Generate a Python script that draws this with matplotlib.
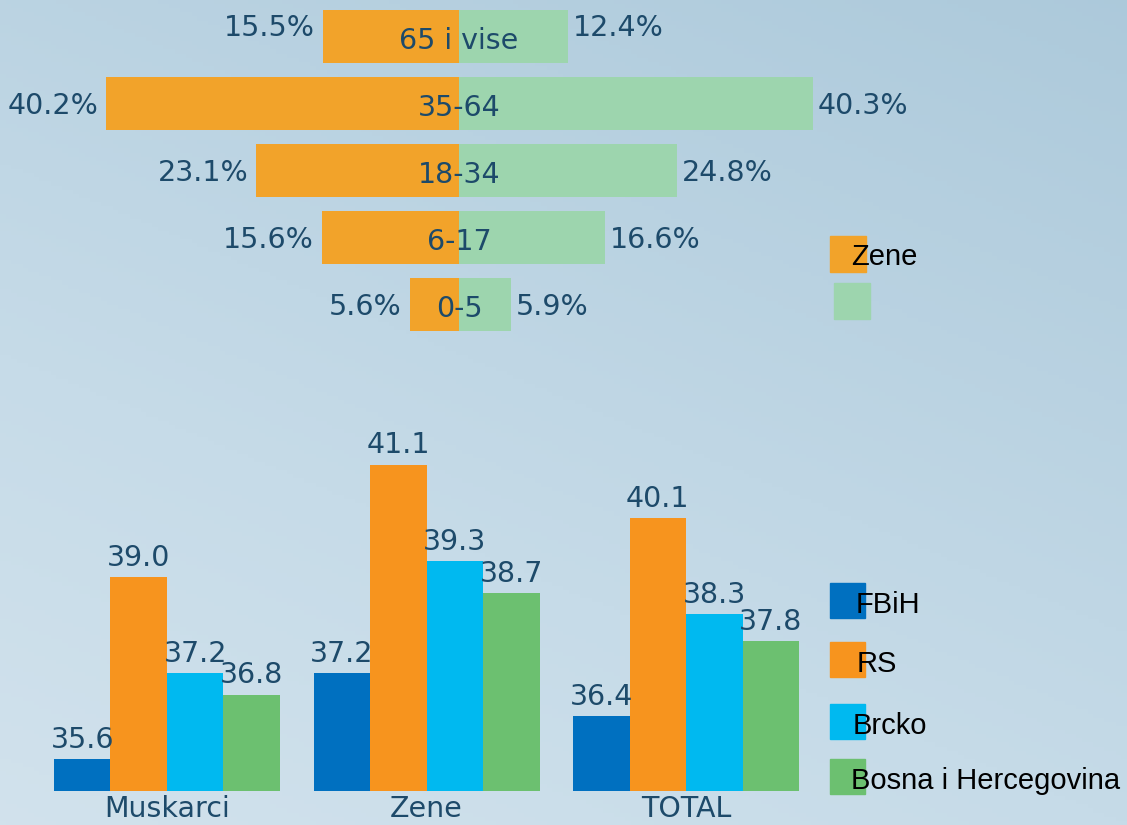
import numpy as np
import matplotlib.pyplot as plt
from matplotlib.colors import LinearSegmentedColormap
from matplotlib.patches import Rectangle

# population pyramid (percent)
age_groups = ['0-5', '6-17', '18-34', '35-64', '65 i vise']
zene = [5.6, 15.6, 23.1, 40.2, 15.5]
muskarci = [5.9, 16.6, 24.8, 40.3, 12.4]

# average age by entity
categories = ['Muskarci', 'Zene', 'TOTAL']
fbih = [35.6, 37.2, 36.4]
rs = [39.0, 41.1, 40.1]
brcko = [37.2, 39.3, 38.3]
bih = [36.8, 38.7, 37.8]
entities = ['FBiH', 'RS', 'Brcko', 'Bosna i Hercegovina']

navy = '#1d4a6a'
c_orange = '#f2a32a'
c_green = '#9dd5ae'
ent_colors = ['#0070c0', '#f7941e', '#00b9f0', '#6cc070']
fs = 20.5

W, H = 1127, 825
fig = plt.figure(figsize=(W / 100, H / 100), dpi=100)

# background (light sky blue)
bg = fig.add_axes([0, 0, 1, 1])
yy, xx = np.mgrid[0:1:200j, 0:1:200j]
grad = 0.45 + 0.35 * yy - 0.2 * xx
sky = LinearSegmentedColormap.from_list('sky', ['#a9c7d9', '#c6dbe8', '#dde9f1'])
bg.imshow(grad, cmap=sky, vmin=0.2, vmax=1.0, aspect='auto',
          extent=[0, 1, 0, 1], origin='upper')
bg.axis('off')


def px_axes(x0, y0, x1, y1):
    return fig.add_axes([x0 / W, 1 - y1 / H, (x1 - x0) / W, (y1 - y0) / H])


# ---- top: pyramid ----
ax1 = px_axes(0, 0, W, 340)
pxp = 8.78
ax1.set_xlim(-459 / pxp, (W - 459) / pxp)
ax1.set_ylim((304.5 - 340) / 67, 304.5 / 67)
y = np.arange(len(age_groups))
ax1.barh(y, [-v for v in zene], height=0.79, color=c_orange)
ax1.barh(y, muskarci, height=0.79, color=c_green)
for i in range(len(age_groups)):
    yl = y[i] - 0.03 if i < 4 else y[i] + 0.12
    ax1.text(-zene[i] - 0.9, yl, f'{zene[i]:.1f}%', ha='right', va='center',
             fontsize=fs, color=navy)
    ax1.text(muskarci[i] + 0.6, yl, f'{muskarci[i]:.1f}%', ha='left', va='center',
             fontsize=fs, color=navy)
    ax1.text(0, y[i] - 0.06, age_groups[i], ha='center', va='center',
             fontsize=fs, color=navy)
ax1.axis('off')

# ---- bottom: grouped bars ----
ax2 = px_axes(0, 420, W, 791)
gp = 259.5
ax2.set_xlim(-167 / gp, (W - 167) / gp)
ax2.set_ylim(35, 35 + 371 / 53.5)
x = np.arange(len(categories))
bw = 56.5 / gp
for k, (vals, col) in enumerate(zip([fbih, rs, brcko, bih], ent_colors)):
    xs = x + (k - 1.5) * bw
    ax2.bar(xs, [v - 35 for v in vals], bottom=35, width=bw, color=col)
    for xi, v in zip(xs, vals):
        ax2.text(xi, v + 0.1, f'{v:.1f}', ha='center', va='bottom',
                 fontsize=fs, color=navy)
ax2.set_xticks(x)
ax2.set_xticklabels(categories, fontsize=fs, color=navy)
ax2.tick_params(axis='x', length=0, pad=3)
ax2.set_yticks([])
for s in ax2.spines.values():
    s.set_visible(False)
ax2.patch.set_alpha(0)

# ---- legends (drawn in pixel space) ----
lg = fig.add_axes([0, 0, 1, 1])
lg.set_xlim(0, W)
lg.set_ylim(H, 0)
lg.axis('off')
lg.add_patch(Rectangle((830, 236), 36, 36, color=c_orange))
lg.add_patch(Rectangle((834, 283), 36, 36, color=c_green))
lg.text(851, 257, 'Zene', fontsize=21, family='Liberation Sans', color='black',
        va='center', ha='left')
leg_y = [583, 642, 704, 759]
leg_x = [856, 857, 853, 851]
for yy0, xx0, name, col in zip(leg_y, leg_x, entities, ent_colors):
    lg.add_patch(Rectangle((830, yy0), 35, 35, color=col))
    lg.text(xx0, yy0 + 22, name, fontsize=21, family='Liberation Sans',
            color='black', va='center', ha='left')

fig.savefig('out.png', dpi=100)
